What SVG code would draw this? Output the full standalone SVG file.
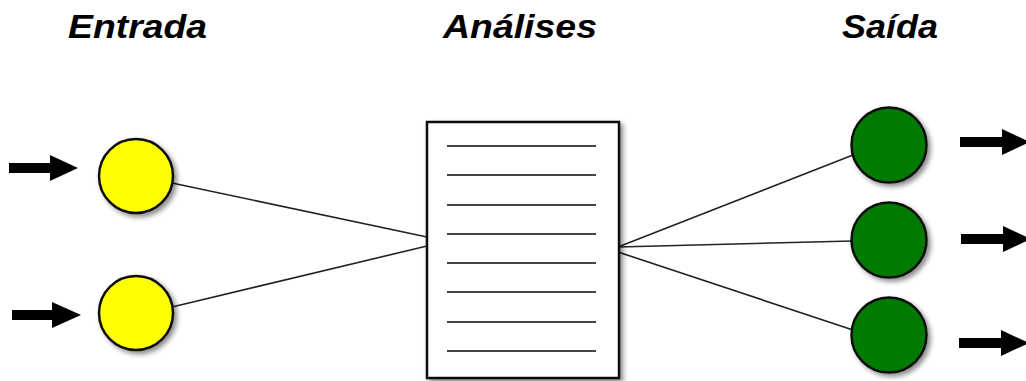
<svg xmlns="http://www.w3.org/2000/svg" width="1026" height="381" viewBox="0 0 1026 381">
<defs>
<filter id="sh" x="-30%" y="-30%" width="160%" height="160%">
<feDropShadow dx="3" dy="3" stdDeviation="2.5" flood-color="#000" flood-opacity="0.45"/>
</filter>
<style>
.title{font-family:"Liberation Sans",Arial,sans-serif;font-weight:bold;font-style:italic;font-size:33px;fill:#000}
.in{fill:#ffff00;stroke:#111;stroke-width:2.5}
.out{fill:#007a00;stroke:#111;stroke-width:2.5}
.conn{stroke:#222;stroke-width:1.6;fill:none}
.rule{stroke:#444;stroke-width:2}
.arrow{fill:#000}
</style>
</defs>
<rect width="1026" height="381" fill="#fff"/>
<text class="title" x="68" y="38" textLength="139" lengthAdjust="spacingAndGlyphs">Entrada</text>
<text class="title" x="443" y="38" textLength="154" lengthAdjust="spacingAndGlyphs">Análises</text>
<text class="title" x="842" y="38" textLength="96" lengthAdjust="spacingAndGlyphs">Saída</text>
<g id="connectors">
<line class="conn" x1="172" y1="183" x2="427" y2="237"/>
<line class="conn" x1="172" y1="307" x2="427" y2="246"/>
<line class="conn" x1="618" y1="247" x2="853" y2="155"/>
<line class="conn" x1="618" y1="247" x2="852" y2="241"/>
<line class="conn" x1="618" y1="252" x2="853" y2="330"/>
<polygon class="arrow" points="9,163 50,163 50,155 78,168 50,181 50,173 9,173"/>
<polygon class="arrow" points="12,310 52,310 52,302 81,315 52,328 52,320 12,320"/>
<polygon class="arrow" points="960,137 1002,137 1002,129 1030,142 1002,155 1002,147 960,147"/>
<polygon class="arrow" points="961,234 1003,234 1003,226 1031,239 1003,252 1003,244 961,244"/>
<polygon class="arrow" points="959,338 1001,338 1001,330 1029,343 1001,356 1001,348 959,348"/>
</g>
<g id="in1"><circle class="in" cx="136" cy="176" r="37" filter="url(#sh)"/></g>
<g id="in2"><circle class="in" cx="136" cy="313" r="37" filter="url(#sh)"/></g>
<g id="analises">
<rect x="427" y="122" width="192" height="256" fill="#fff" stroke="#111" stroke-width="2.5" filter="url(#sh)"/>
<line class="rule" x1="447" y1="146" x2="596" y2="146"/>
<line class="rule" x1="447" y1="175" x2="596" y2="175"/>
<line class="rule" x1="447" y1="205" x2="596" y2="205"/>
<line class="rule" x1="447" y1="234" x2="596" y2="234"/>
<line class="rule" x1="447" y1="263" x2="596" y2="263"/>
<line class="rule" x1="447" y1="292" x2="596" y2="292"/>
<line class="rule" x1="447" y1="322" x2="596" y2="322"/>
<line class="rule" x1="447" y1="351" x2="596" y2="351"/>
</g>
<g id="out1"><circle class="out" cx="889" cy="145" r="37.5" filter="url(#sh)"/></g>
<g id="out2"><circle class="out" cx="889" cy="240" r="37.5" filter="url(#sh)"/></g>
<g id="out3"><circle class="out" cx="889" cy="335" r="37.5" filter="url(#sh)"/></g>
</svg>
